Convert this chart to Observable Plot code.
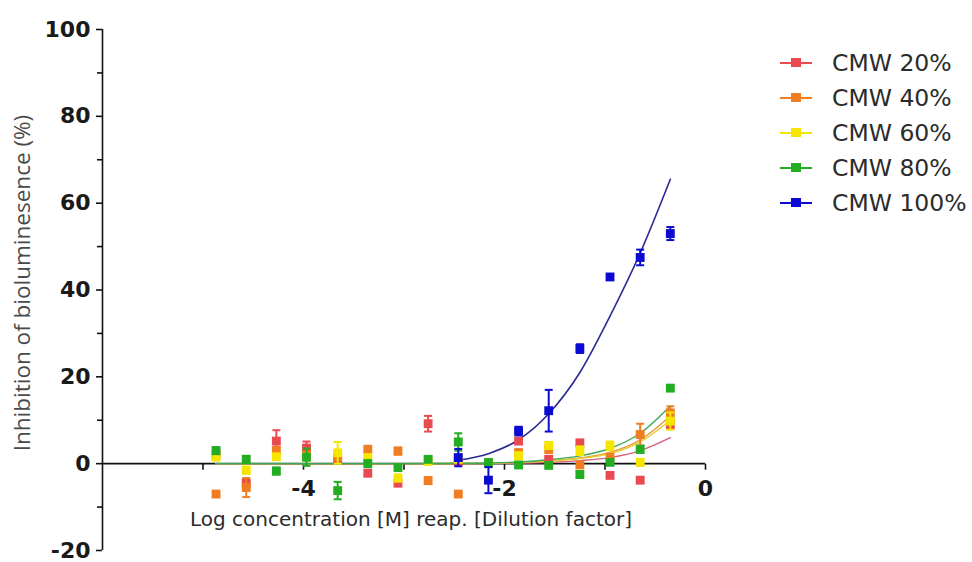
<!DOCTYPE html>
<html>
<head>
<meta charset="utf-8">
<script src="https://cdn.jsdelivr.net/npm/d3@7"></script>
<script src="https://cdn.jsdelivr.net/npm/@observablehq/plot@0.6"></script>
<style>
  html, body { margin: 0; padding: 0; background: #ffffff; }
  #wrap { position: relative; width: 972px; height: 562px; overflow: hidden; background: #fff; }
  #legend { position: absolute; left: 780px; top: 45px; font-family: "DejaVu Sans", sans-serif; font-size: 23.5px; color: #2b2b2b; }
  .row { position: relative; height: 35px; display: flex; align-items: center; }
  .sw { position: relative; width: 32px; height: 35px; margin-right: 20px; }
  .sw .ln { position: absolute; left: 0; width: 32px; top: 16.5px; height: 2px; }
  .sw .sq { position: absolute; left: 11px; top: 13px; width: 10px; height: 9px; }
</style>
</head>
<body>
<div id="wrap"><div id="legend"></div></div>
<script>
// ---- data ----
const seriesNames = ["CMW 20%", "CMW 40%", "CMW 60%", "CMW 80%", "CMW 100%"];
const seriesColors = ["#e84a4f", "#f07d22", "#f5e600", "#22ad22", "#0a0ad2"];
const fitColors = ["#d8607a", "#e89a3a", "#e3cf30", "#3aaa5a", "#2a2a92"];

// log concentration (dilution steps)
const logConc = [-4.87, -4.57, -4.27, -3.97, -3.66, -3.36, -3.06, -2.76, -2.46, -2.16, -1.86, -1.56, -1.25, -0.95, -0.65, -0.35];

const cmw20  = [2.0, -4.5, 5.2, 3.6, 1.0, -2.2, -4.5, 9.2, 0.5, 0.3, 5.2, 1.0, 4.8, -2.7, -3.8, 9.0];
const cmw40  = [-7.0, -5.5, 3.0, 2.0, 1.5, 3.3, 2.9, -3.9, -7.0, 0.2, 2.5, 3.3, -0.3, 1.5, 6.7, 11.7];
const cmw60  = [1.5, -1.5, 1.6, 1.5, 2.5, 1.4, -3.3, 0.5, 1.0, 0.2, 1.8, 4.2, 3.0, 4.1, 0.3, 9.8];
const cmw80  = [3.0, 1.0, -1.7, 1.5, -6.2, 0.0, -0.9, 1.0, 5.0, 0.2, -0.3, -0.4, -2.5, 0.3, 3.3, 17.4];
const cmw100 = [null, null, null, null, null, null, null, null, 1.4, -3.8, 7.5, 12.2, 26.5, 43.0, 47.5, 53.0];

const err20  = [0.5, 0.5, 2.5, 1.5, 0.5, 0.5, 0.5, 1.8, 0.5, 0.5, 0.5, 0.5, 0.5, 0.5, 0.5, 0.5];
const err40  = [0.3, 2.2, 0.8, 0.5, 0.5, 0.8, 0.8, 0.8, 0.3, 0.5, 0.8, 0.8, 0.5, 0.5, 2.5, 1.5];
const err60  = [0.5, 0.8, 0.5, 0.5, 2.5, 0.8, 0.8, 0.5, 0.5, 0.5, 0.8, 0.8, 1.0, 1.0, 0.8, 2.0];
const err80  = [0.8, 0.8, 0.8, 2.0, 2.0, 0.8, 0.8, 0.5, 2.0, 0.8, 0.5, 0.5, 0.8, 0.5, 0.8, 0.5];
const err100 = [null, null, null, null, null, null, null, null, 2.0, 3.0, 1.0, 4.8, 1.0, 0.5, 1.8, 1.5];

// fitted curves
const fitX    = [-4.87, -3.97, -3.06, -2.46, -2.16, -1.86, -1.56, -1.25, -0.95, -0.65, -0.35];
const fit20   = [0, 0, 0, 0.02, 0.05, 0.1, 0.3, 0.7, 1.4, 3.0, 6.0];
const fit40   = [0, 0, 0, 0.03, 0.1, 0.3, 0.6, 1.3, 2.6, 5.5, 11.0];
const fit60   = [0, 0, 0, 0.03, 0.1, 0.3, 0.6, 1.2, 2.3, 5.0, 10.0];
const fit80   = [0, 0, 0, 0.05, 0.15, 0.4, 0.9, 1.8, 3.5, 7.0, 13.3];
const fit100  = [null, null, null, 0.8, 2.3, 5.5, 11.5, 21.0, 34.0, 48.5, 65.5];

const xDomain = [-6, 0];
const yDomain = [-20, 100];
const yMajorTicks = [-20, 0, 20, 40, 60, 80, 100];
const yMinorTicks = [-10, 10, 30, 50, 70, 90];
const xTicks = [-5, -4, -3, -2, -1, 0];
const xTickLabelValues = [-4, -2, 0];
const xTickLabels = ["-4", "-2", "0"];
const xTitle = "Log concentration [M] reap. [Dilution factor]";
const yTitle = "Inhibition of bioluminesence (%)";

// ---- build tables ----
const values = [cmw20, cmw40, cmw60, cmw80, cmw100];
const errors = [err20, err40, err60, err80, err100];
const fits = [fit20, fit40, fit60, fit80, fit100];

const points = [];
values.forEach((arr, s) => arr.forEach((v, i) => {
  if (v != null) points.push({x: logConc[i], y: v, e: errors[s][i], s});
}));
const fitRows = [];
fits.forEach((arr, s) => arr.forEach((v, i) => {
  if (v != null) fitRows.push({x: fitX[i], y: v, s});
}));

const capSymbol = {
  draw(context, size) {
    const w = Math.sqrt(size) / 2;
    context.moveTo(-w, 0);
    context.lineTo(w, 0);
  }
};
const downTick = {
  draw(context, size) {
    context.moveTo(0, 0);
    context.lineTo(0, Math.sqrt(size));
  }
};

const marks = [];
// axis lines
marks.push(Plot.ruleY([0], {x1: xDomain[0], x2: xDomain[1], stroke: "#111", strokeWidth: 1.6}));
marks.push(Plot.ruleX([xDomain[0]], {y1: yDomain[0], y2: yDomain[1], stroke: "#111", strokeWidth: 1.6}));
marks.push(Plot.dot(xTicks, {x: d => d, y: 0, symbol: downTick, r: 3.4, stroke: "#111", strokeWidth: 1.6, fill: "none"}));
// fit lines
[0, 1, 2, 3, 4].forEach(s => {
  marks.push(Plot.line(fitRows.filter(d => d.s === s), {x: "x", y: "y", stroke: fitColors[s], strokeWidth: s === 4 ? 1.6 : 1.4, curve: "monotone-x"}));
});
// y axis
marks.push(Plot.axisY(yMajorTicks, {anchor: "left", tickSize: 6, tickPadding: 6, tickFormat: d => String(d), fontSize: 22, fontWeight: "bold", fontFamily: "DejaVu Sans, sans-serif", fill: "#1a1a1a", stroke: "#111", strokeWidth: 1.6, label: null}));
marks.push(Plot.axisY(yMinorTicks, {anchor: "left", tickSize: 5, text: null, stroke: "#111", strokeWidth: 1.6, label: null}));
// x tick labels near zero line
marks.push(Plot.text(xTickLabels, {x: (d, i) => xTickLabelValues[i], y: 0, dy: 25, fontSize: 22, fontWeight: "bold", fontFamily: "DejaVu Sans, sans-serif", fill: "#1a1a1a"}));
// titles
marks.push(Plot.text([xTitle], {frameAnchor: "bottom", dx: 7, dy: -25, fontSize: 20, fontFamily: "DejaVu Sans, sans-serif", fill: "#2b2b2b"}));
marks.push(Plot.text([yTitle], {frameAnchor: "left", textAnchor: "middle", rotate: -90, dx: -80, dy: -7, fontSize: 22.5, fontFamily: "Open Sans, sans-serif", fill: "#4a4a4a"}));
// error bars + points
[0, 1, 2, 3, 4].forEach(s => {
  const rows = points.filter(d => d.s === s);
  marks.push(Plot.ruleX(rows, {x: "x", y1: d => d.y - d.e, y2: d => d.y + d.e, stroke: seriesColors[s], strokeWidth: 2}));
  marks.push(Plot.dot(rows, {x: "x", y: d => d.y + d.e, symbol: capSymbol, r: 4.5, stroke: seriesColors[s], strokeWidth: 2, fill: "none"}));
  marks.push(Plot.dot(rows, {x: "x", y: d => d.y - d.e, symbol: capSymbol, r: 4.5, stroke: seriesColors[s], strokeWidth: 2, fill: "none"}));
  marks.push(Plot.dot(rows, {x: "x", y: "y", symbol: "square", r: 5, fill: seriesColors[s], stroke: "none"}));
});

const chart = Plot.plot({
  width: 972,
  height: 562,
  marginLeft: 102,
  marginRight: 267,
  marginTop: 29,
  marginBottom: 12,
  style: {background: "#ffffff", overflow: "visible"},
  x: {type: "linear", domain: xDomain, axis: null},
  y: {type: "linear", domain: yDomain, axis: null},
  marks
});
document.getElementById("wrap").prepend(chart);

// legend
const legend = document.getElementById("legend");
seriesNames.forEach((name, i) => {
  const row = document.createElement("div");
  row.className = "row";
  row.innerHTML = `<div class="sw"><div class="ln" style="background:${seriesColors[i]}"></div><div class="sq" style="background:${seriesColors[i]}"></div></div><span>${name}</span>`;
  legend.appendChild(row);
});
</script>
</body>
</html>
